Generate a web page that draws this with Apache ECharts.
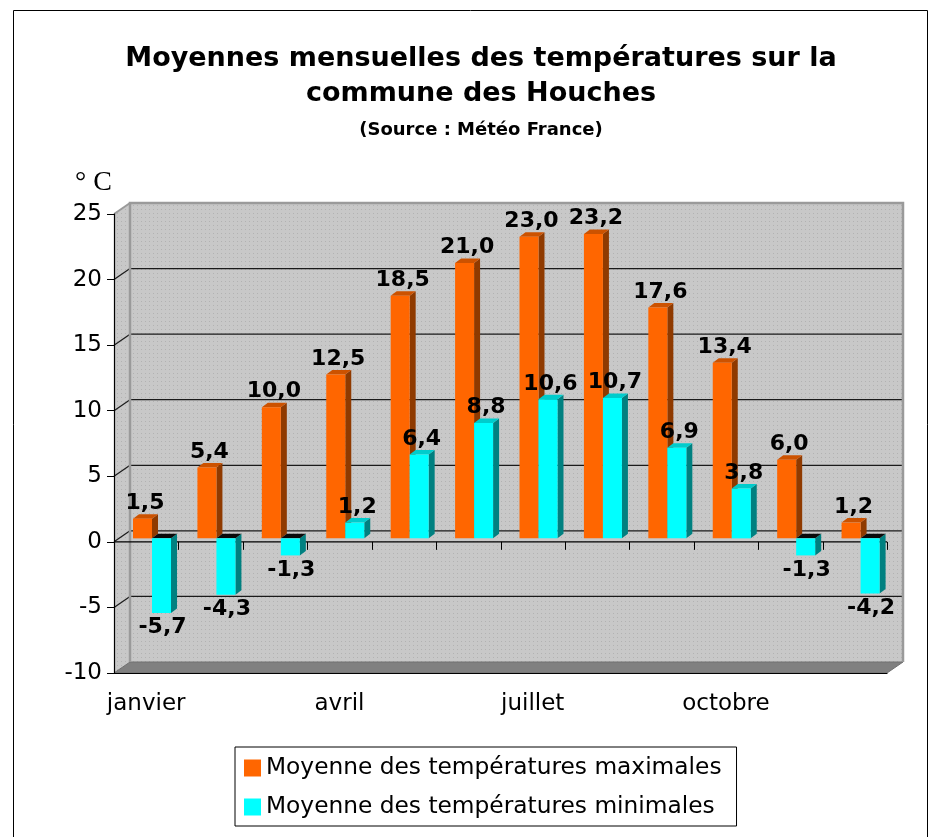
<!DOCTYPE html>
<html>
<head>
<meta charset="utf-8">
<script src="https://cdn.jsdelivr.net/npm/echarts@6/dist/echarts.min.js"></script>
<style>
html,body{margin:0;padding:0;background:#fff;}
#chart{width:932px;height:837px;}
</style>
</head>
<body>
<div id="chart"></div>
<script>
// ---- data ----
const months = ['janvier','février','mars','avril','mai','juin','juillet','août','septembre','octobre','novembre','décembre'];
const tMax = [1.5, 5.4, 10.0, 12.5, 18.5, 21.0, 23.0, 23.2, 17.6, 13.4, 6.0, 1.2];
const tMin = [-5.7, -4.3, -1.3, 1.2, 6.4, 8.8, 10.6, 10.7, 6.9, 3.8, -1.3, -4.2];
const yTicks = [-10, -5, 0, 5, 10, 15, 20, 25];
const titleText = 'Moyennes mensuelles des températures sur la\ncommune des Houches';
const subTitleText = '(Source : Météo France)';
const unitText = '° C';
const nameMax = 'Moyenne des températures maximales';
const nameMin = 'Moyenne des températures minimales';

// ---- style constants ----
const FONT = '"DejaVu Sans", sans-serif';
const DX = 16, DY = -11;      // wall depth
const BDX = 6, BDY = -4.5;    // bar depth
const ZOFF = -3.5;            // bar plane offset
const BARW = 0.295;

function makeDots() {
  const c = document.createElement('canvas');
  c.width = 4; c.height = 4;
  const g = c.getContext('2d');
  g.fillStyle = '#c8c8c8'; g.fillRect(0, 0, 4, 4);
  g.fillStyle = '#b2b2b2'; g.fillRect(1, 1, 1, 1);
  return c;
}
const dots = makeDots();

function fmt(v) { return v.toFixed(1).replace('.', ','); }

function renderWalls(params, api) {
  const cs = params.coordSys;
  const x = cs.x, y = cs.y, w = cs.width, h = cs.height;
  const pat = { image: dots, repeat: 'repeat' };
  const ch = [];
  ch.push({ type: 'rect', shape: { x: x + DX, y: y + DY, width: w, height: h }, style: { fill: pat } });
  ch.push({ type: 'polygon', shape: { points: [[x, y], [x + DX, y + DY], [x + DX, y + h + DY], [x, y + h]] }, style: { fill: pat } });
  yTicks.forEach(function (v) {
    const yy = api.coord([0, v])[1];
    if (v > yTicks[0] && v < yTicks[yTicks.length - 1]) {
      ch.push({ type: 'line', shape: { x1: x + DX, y1: yy + DY, x2: x + w + DX, y2: yy + DY }, style: { stroke: '#1a1a1a', lineWidth: 1.2 } });
      ch.push({ type: 'line', shape: { x1: x, y1: yy, x2: x + DX, y2: yy + DY }, style: { stroke: '#1a1a1a', lineWidth: 1.2 } });
    }
  });
  // floor
  ch.push({ type: 'polygon', shape: { points: [[x, y + h], [x + DX, y + h + DY], [x + w + DX, y + h + DY], [x + w, y + h]] }, style: { fill: '#808080', stroke: '#707070', lineWidth: 1 } });
  // borders of back wall
  ch.push({ type: 'polyline', shape: { points: [[x + DX, y + h + DY], [x + DX, y + DY], [x + w + DX, y + DY], [x + w + DX, y + h + DY]] }, style: { stroke: '#9a9a9a', lineWidth: 2.5, fill: null } });
  ch.push({ type: 'line', shape: { x1: x, y1: y, x2: x + DX, y2: y + DY }, style: { stroke: '#9a9a9a', lineWidth: 2 } });
  // zero line with ticks
  const y0 = api.coord([0, 0])[1];
  ch.push({ type: 'line', shape: { x1: x, y1: y0, x2: x + w, y2: y0 }, style: { stroke: '#000', lineWidth: 1.2 } });
  const band = api.size([1, 0])[0];
  for (let k = 1; k <= months.length; k++) {
    const xx = Math.round(x + k * band) + 0.5;
    ch.push({ type: 'line', shape: { x1: xx, y1: y0, x2: xx, y2: y0 + 8 }, style: { stroke: '#000', lineWidth: 1 } });
  }
  return { type: 'group', children: ch };
}

function makeBar(frac, cFront, cSide, cTop) {
  return function (params, api) {
    const i = api.value(0), v = api.value(1);
    const band = api.size([1, 0])[0];
    const c0 = api.coord([i, 0]);
    const cv = api.coord([i, v]);
    const left = c0[0] - band / 2 + band * frac;
    const bw = band * BARW;
    const right = left + bw;
    const yz = c0[1] + ZOFF, yv = cv[1] + ZOFF;
    const top = Math.min(yz, yv), bot = Math.max(yz, yv);
    const ch = [];
    ch.push({ type: 'polygon', shape: { points: [[right, top], [right + BDX, top + BDY], [right + BDX, bot + BDY], [right, bot]] }, style: { fill: cSide } });
    ch.push({ type: 'polygon', shape: { points: [[left, top], [left + BDX, top + BDY], [right + BDX, top + BDY], [right, top]] }, style: { fill: v >= 0 ? cTop : '#0a0a0a' } });
    ch.push({ type: 'rect', shape: { x: left, y: top, width: bw, height: bot - top }, style: { fill: cFront } });
    const cx = (left + right) / 2;
    ch.push({
      type: 'text', z2: 100,
      x: v >= 0 ? cx + 2.5 : cx + 1,
      y: v >= 0 ? top + BDY - 11 : bot + 14.5,
      style: { text: fmt(v), fill: '#000', fontFamily: FONT, fontWeight: 'bold', fontSize: 22, align: 'center', verticalAlign: 'middle' }
    });
    return { type: 'group', children: ch };
  };
}

const chart = echarts.init(document.getElementById('chart'), null, { renderer: 'canvas' });
chart.setOption({
  backgroundColor: '#fff',
  animation: false,
  title: {
    text: titleText,
    subtext: subTitleText,
    left: 481, top: 41, padding: 0, itemGap: 9,
    textAlign: 'center',
    textStyle: { fontFamily: FONT, fontWeight: 'bold', fontSize: 27, lineHeight: 35, color: '#000' },
    subtextStyle: { fontFamily: FONT, fontWeight: 'bold', fontSize: 18, lineHeight: 20, color: '#000' }
  },
  graphic: [
    { type: 'rect', z: -10, silent: true, shape: { x: 13.5, y: 10.5, width: 914, height: 850 }, style: { fill: null, stroke: '#000', lineWidth: 1 } },
    { type: 'text', left: 75, top: 169, style: { text: unitText, fontFamily: '"Liberation Serif", serif', fontSize: 28, fill: '#000' } }
  ],
  legend: {
    orient: 'vertical',
    left: 235, top: 747,
    padding: [6, 15, 4, 9],
    itemWidth: 17, itemHeight: 17, itemGap: 9,
    icon: 'rect',
    borderColor: '#000', borderWidth: 1,
    textStyle: { fontFamily: FONT, fontSize: 23.3, lineHeight: 30, color: '#000' },
    data: [
      { name: nameMax, itemStyle: { color: '#FF6600' } },
      { name: nameMin, itemStyle: { color: '#00FFFF' } }
    ]
  },
  grid: { left: 114, right: 45, top: 214, bottom: 164 },
  xAxis: {
    type: 'category', data: months, boundaryGap: true,
    axisLine: { onZero: false, lineStyle: { color: '#000', width: 1.2 } },
    axisTick: { interval: 0, length: 7, lineStyle: { color: '#000' } },
    axisLabel: { interval: 2, margin: 20, fontFamily: FONT, fontSize: 23, color: '#000' },
    splitLine: { show: false }
  },
  yAxis: {
    type: 'value', min: -10, max: 25, interval: 5,
    axisLine: { show: true, lineStyle: { color: '#000', width: 1.2 } },
    axisTick: { show: true, length: 7, lineStyle: { color: '#000' } },
    axisLabel: { margin: 12, fontFamily: FONT, fontSize: 23, color: '#000' },
    splitLine: { show: false }
  },
  series: [
    { type: 'custom', name: 'walls', z: -1, silent: true, clip: false, data: [[0, 0]], renderItem: renderWalls },
    { type: 'custom', name: nameMax, clip: false, itemStyle: { color: '#FF6600' },
      data: tMax.map(function (v, i) { return [i, v]; }),
      renderItem: makeBar(0.295, '#FF6600', '#8f3a00', '#cc5200') },
    { type: 'custom', name: nameMin, clip: false, itemStyle: { color: '#00FFFF' },
      data: tMin.map(function (v, i) { return [i, v]; }),
      renderItem: makeBar(0.59, '#00FFFF', '#008080', '#00cccc') }
  ]
});
</script>
</body>
</html>
